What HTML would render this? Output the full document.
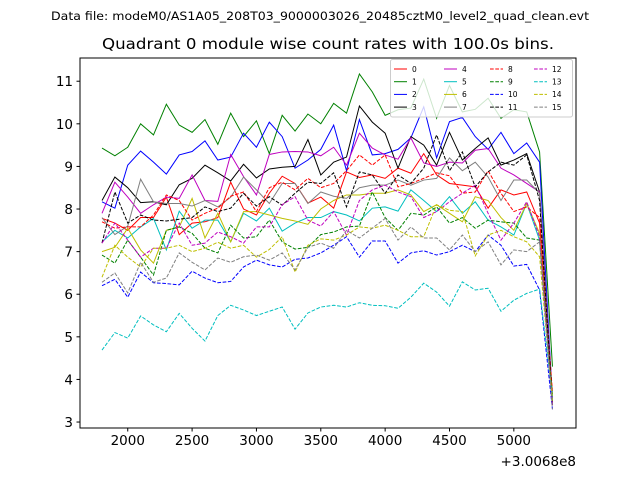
<!DOCTYPE html>
<html><head><meta charset="utf-8"><style>
html,body{margin:0;padding:0;background:#fff;}
svg{display:block;font-family:"DejaVu Sans","Liberation Sans",sans-serif;}
</style></head><body>
<svg id="chart" width="640" height="480" viewBox="0 0 640 480" xmlns="http://www.w3.org/2000/svg">
<rect x="0" y="0" width="640" height="480" fill="#fff"/>
<text x="320" y="20" font-size="11.5" text-anchor="middle" textLength="538" lengthAdjust="spacingAndGlyphs">Data file: modeM0/AS1A05_208T03_9000003026_20485cztM0_level2_quad_clean.evt</text>
<text x="328" y="49" font-size="15.5" text-anchor="middle" textLength="452" lengthAdjust="spacingAndGlyphs">Quadrant 0 module wise count rates with 100.0s bins.</text>
<g id="plot"></g>
</svg>
<script>
const times = [1800,1900,2000,2100,2200,2300,2400,2500,2600,2700,2800,2900,3000,3100,3200,3300,3400,3500,3600,3700,3800,3900,4000,4100,4200,4300,4400,4500,4600,4700,4800,4900,5000,5100,5200,5300];
const xTicks = [2000,2500,3000,3500,4000,4500,5000];
const yTicks = [3,4,5,6,7,8,9,10,11];
const seriesLabels = ["0","1","2","3","4","5","6","7","8","9","10","11","12","13","14","15"];
const s0 = [7.78,7.67,7.5,7.8,7.8,8.28,7.4,7.67,7.7,7.8,8.63,8.0,7.86,8.37,8.77,8.6,8.14,8.28,8.02,8.87,8.74,8.8,8.72,8.96,8.84,9.3,8.8,8.6,8.56,8.52,8.02,8.45,8.33,8.4,7.67,3.6];
const s1 = [9.43,9.25,9.45,10.0,9.74,10.46,9.97,9.8,10.1,9.52,10.25,9.7,10.07,9.3,10.2,9.83,10.23,10.0,10.48,10.25,11.17,10.75,10.2,10.33,10.37,11.05,10.13,10.9,10.28,10.34,10.6,10.13,10.33,10.28,9.34,4.3];
const s2 = [8.17,8.02,9.03,9.36,9.1,8.82,9.27,9.35,9.6,9.15,9.22,9.78,9.45,10.04,9.7,8.96,9.15,9.4,9.97,8.9,10.1,9.27,9.3,9.4,9.67,10.4,9.2,10.05,10.15,9.7,9.4,9.8,9.3,9.55,9.1,3.5];
const s3 = [8.2,8.75,8.5,8.15,8.17,8.1,8.57,8.72,9.03,8.85,8.66,9.05,8.73,8.94,8.98,9.0,9.63,8.8,9.1,9.22,10.42,10.04,9.78,8.96,9.7,9.5,9.03,9.8,9.15,9.42,9.67,9.03,9.15,9.3,8.4,3.4];
const s4 = [7.9,8.63,8.28,7.9,8.1,8.28,8.25,8.8,8.2,8.18,9.28,8.76,8.33,9.28,9.34,9.35,9.34,9.25,9.45,9.03,9.78,9.43,9.27,9.17,9.67,9.08,9.0,9.1,9.08,9.38,9.42,8.96,8.8,8.6,8.4,3.5];
const s5 = [7.23,7.5,7.32,7.58,7.78,7.04,7.95,7.55,7.74,7.74,7.23,7.9,7.72,8.02,7.48,7.67,7.8,7.8,7.94,7.86,7.72,8.02,8.05,7.95,8.45,8.2,7.94,8.29,7.9,8.17,7.74,7.58,7.39,8.13,7.27,3.5];
const s6 = [7.0,7.1,7.55,7.04,6.73,7.5,7.58,8.25,7.32,7.9,7.23,7.94,7.94,7.86,7.78,7.72,7.64,8.0,8.2,8.33,8.33,8.37,8.37,8.45,8.33,7.94,8.1,7.9,7.7,8.29,8.2,7.8,7.5,8.13,7.43,3.6];
const s7 = [7.8,7.4,7.6,8.7,8.17,8.13,8.13,8.07,8.2,8.05,8.28,8.75,8.45,8.13,8.6,8.6,8.13,8.4,8.3,8.25,8.5,8.56,8.56,8.68,8.56,8.68,8.72,9.2,8.9,9.1,8.75,8.2,8.68,8.68,8.37,3.4];
const s8 = [7.7,7.55,7.58,7.58,7.86,8.33,8.2,7.74,7.9,8.02,8.3,8.4,7.94,8.5,8.63,8.45,8.72,8.5,8.6,8.9,9.27,9.03,9.27,8.52,8.6,8.72,8.85,8.78,8.37,8.4,8.9,8.37,7.94,8.05,7.8,3.7];
const s9 = [6.92,6.73,7.27,6.87,6.45,7.5,7.58,7.43,7.08,6.97,7.62,7.32,7.35,7.74,7.23,7.06,7.1,7.4,7.46,7.58,7.6,8.4,7.8,7.5,7.9,7.86,8.05,7.67,7.8,7.55,7.74,7.7,7.67,7.32,7.27,3.6];
const s10 = [6.2,6.35,5.93,6.52,6.27,6.25,6.22,6.54,6.38,6.27,6.3,6.64,6.8,6.69,6.64,6.82,6.85,6.97,7.15,7.35,6.87,7.25,7.25,6.73,6.97,7.02,6.92,7.0,7.15,7.0,7.39,7.15,6.66,6.7,6.1,3.3];
const s11 = [7.2,8.4,7.67,7.86,7.74,7.72,7.76,7.8,8.05,7.94,8.02,8.37,8.07,8.29,8.09,8.37,8.63,8.6,8.85,8.05,8.87,8.8,8.37,8.8,8.6,8.96,9.74,8.9,9.34,8.52,8.87,9.1,9.03,9.27,8.2,3.4];
const s12 = [7.2,7.67,7.27,6.87,7.08,7.08,7.67,7.15,7.2,7.46,7.35,7.2,7.58,7.58,8.1,8.29,7.74,7.6,7.94,7.39,8.2,8.45,8.56,8.4,8.29,7.8,7.94,8.17,8.37,8.56,7.9,7.27,7.67,8.17,7.35,3.4];
const s13 = [4.69,5.1,4.97,5.49,5.28,5.12,5.55,5.2,4.9,5.5,5.74,5.63,5.5,5.6,5.7,5.18,5.56,5.7,5.74,5.7,5.8,5.74,5.73,5.67,5.93,6.26,6.05,5.72,6.29,6.1,6.14,5.6,5.86,6.02,6.12,3.6];
const s14 = [6.4,7.15,6.87,6.64,7.08,7.08,7.15,7.0,7.08,7.22,7.08,7.15,6.87,7.05,7.35,6.52,7.15,7.3,7.27,7.39,7.58,7.55,7.62,7.5,7.35,7.35,8.1,7.97,7.94,6.9,7.39,7.5,7.35,7.23,6.88,3.5];
const s15 = [6.28,6.5,6.03,6.75,6.28,6.38,6.97,6.75,6.57,6.85,6.75,6.88,6.92,6.8,6.97,6.57,7.1,7.2,7.08,7.5,7.32,7.55,7.78,7.27,7.58,7.32,7.32,7.04,7.39,7.0,7.23,6.69,7.04,7.0,7.23,3.3];

const allSeries = [s0,s1,s2,s3,s4,s5,s6,s7,s8,s9,s10,s11,s12,s13,s14,s15];
const colors = ["#ff0000","#008000","#0000ff","#000000","#bf00bf","#00bfbf","#bfbf00","#808080"];
const L=80,R=576,T=58,B=428;
const xMin=1629,xMax=5483,yMin=2.86,yMax=11.545;
function xs(v){return L+(v-xMin)/(xMax-xMin)*(R-L);}
function ys(v){return B-(v-yMin)/(yMax-yMin)*(B-T);}
const NS="http://www.w3.org/2000/svg";
const g=document.getElementById('plot');
function mk(tag,attrs,parent){const e=document.createElementNS(NS,tag);for(const k in attrs)e.setAttribute(k,attrs[k]);(parent||g).appendChild(e);return e;}

const clip=mk('clipPath',{id:'pc'});mk('rect',{x:L,y:T,width:R-L,height:B-T},clip);
const lines=mk('g',{'clip-path':'url(#pc)'});


allSeries.forEach((s,i)=>{
  const d=s.map((v,j)=>(j?'L':'M')+xs(times[j]).toFixed(2)+','+ys(v).toFixed(2)).join(' ');
  const p=mk('path',{d:d,fill:'none',stroke:colors[i%8],'stroke-width':1,'stroke-dasharray':i>=8?'3.7,1.6':'none'},lines);
  
  
});

const frame=mk('rect',{x:L,y:T,width:R-L,height:B-T,fill:'none',stroke:'#000','stroke-width':1});


xTicks.forEach(t=>{
  const x=xs(t);
  const tk=mk('line',{x1:x,x2:x,y1:B,y2:B+3.5,stroke:'#000'});
  
  
  const tx=mk('text',{x:x,y:B+17,'font-size':13.5,'text-anchor':'middle'});tx.textContent=t;
  
  
});
yTicks.forEach(t=>{
  const y=ys(t);
  const tk=mk('line',{x1:L-3.5,x2:L,y1:y,y2:y,stroke:'#000'});
  
  
  const tx=mk('text',{x:L-7,y:y+5,'font-size':13.5,'text-anchor':'end'});tx.textContent=t;
  
  
});
const off=mk('text',{x:576,y:466,'font-size':13.5,'text-anchor':'end'});off.textContent='+3.0068e8';



const lg=mk('g',{});


mk('rect',{x:390.5,y:59.5,width:182,height:57.5,rx:2,fill:'#fff','fill-opacity':0.8,stroke:'#ccc','stroke-width':1},lg);
const colX=[394,444,490,534];
seriesLabels.forEach((lab,i)=>{
  const c=Math.floor(i/4),r=i%4;
  const y=69+r*12.7;
  const eg=mk('g',{},lg);
  
  
  mk('line',{x1:colX[c],x2:colX[c]+13,y1:y,y2:y,stroke:colors[i%8],'stroke-width':1,'stroke-dasharray':i>=8?'3.7,1.6':'none'},eg);
  const t=mk('text',{x:colX[c]+18,y:y+2.8,'font-size':7.5},eg);t.textContent=lab;
});
</script>
</body></html>
